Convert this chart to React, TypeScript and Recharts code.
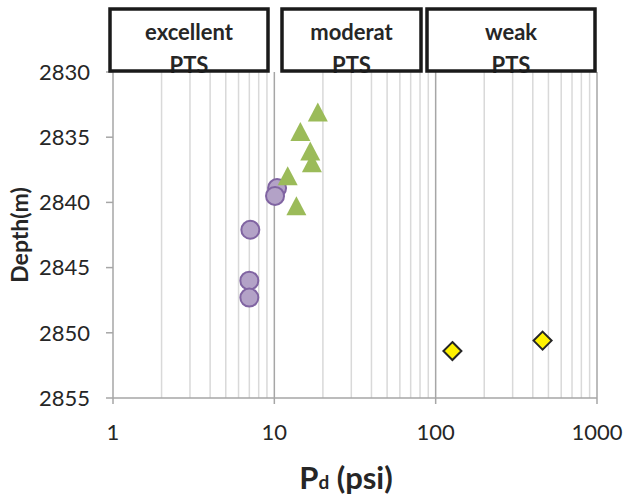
import React from 'react';
import { ScatterChart, Scatter, XAxis, YAxis, ReferenceLine, Label } from 'recharts';

const excellentX = [10.4, 10.1, 7.1, 7.0, 7.0];
const excellentY = [2838.9, 2839.5, 2842.1, 2846.0, 2847.3];
const moderateX = [18.6, 14.5, 16.7, 17.1, 12.1, 13.7];
const moderateY = [2833.1, 2834.6, 2836.1, 2837.0, 2838.0, 2840.3];
const weakX = [127, 460];
const weakY = [2851.4, 2850.6];

const xTicks = [1, 10, 100, 1000];
const yTicks = [2830, 2835, 2840, 2845, 2850, 2855];
const minorGrid = [2, 3, 4, 5, 6, 7, 8, 9, 20, 30, 40, 50, 60, 70, 80, 90, 200, 300, 400, 500, 600, 700, 800, 900];
const majorGrid = [10, 100, 1000];
const classLabels = ['excellent', 'moderat', 'weak'];

const toPts = (xs: number[], ys: number[]) => xs.map((x, i) => ({ x, y: ys[i] }));
const excellent = toPts(excellentX, excellentY);
const moderate = toPts(moderateX, moderateY);
const weak = toPts(weakX, weakY);

const FONT = 'Lato, "Open Sans", sans-serif';

const Circle = (p: any) => (
  <circle cx={p.cx} cy={p.cy} r={9} fill="#B3A2C7" stroke="#8064A2" strokeWidth={2} />
);
const Tri = (p: any) => (
  <polygon
    points={`${p.cx},${p.cy - 10} ${p.cx + 10},${p.cy + 9} ${p.cx - 10},${p.cy + 9}`}
    fill="#9BBB59"
  />
);
const Diamond = (p: any) => (
  <polygon
    points={`${p.cx},${p.cy - 9} ${p.cx + 9},${p.cy} ${p.cx},${p.cy + 9} ${p.cx - 9},${p.cy}`}
    fill="#FFF200"
    stroke="#262626"
    strokeWidth={2}
  />
);

const boxes = [
  { x: 110, w: 158 },
  { x: 282, w: 139 },
  { x: 427, w: 168 },
];

export default function App() {
  return (
    <div style={{ position: 'absolute', left: 0, top: 0, width: 623, height: 504, background: '#fff' }}>
      <ScatterChart width={623} height={504} margin={{ top: 72, right: 26, bottom: 0, left: 0 }}>
        {minorGrid.map((v) => (
          <ReferenceLine key={'m' + v} x={v} stroke="#D9D9D9" strokeWidth={1.5} />
        ))}
        {majorGrid.map((v) => (
          <ReferenceLine key={'M' + v} x={v} stroke="#A6A6A6" strokeWidth={1.5} />
        ))}
        <XAxis
          type="number"
          dataKey="x"
          scale="log"
          domain={[1, 1000]}
          ticks={xTicks}
          allowDataOverflow
          height={106}
          tickSize={6}
          tickMargin={20}
          stroke="#A6A6A6"
          strokeWidth={1.5}
          tick={{ fill: '#262626', fontSize: 22, fontFamily: FONT }}
          interval={0}
        >
          <Label
            content={(props: any) => {
              const vb = props.viewBox;
              const cx = vb.x + vb.width / 2 - 9;
              return (
                <text x={cx} y={vb.y + 91} textAnchor="middle" fontFamily={FONT} fontWeight="bold" fill="#262626">
                  <tspan fontSize={31}>P</tspan>
                  <tspan fontSize={19}>d</tspan>
                  <tspan fontSize={31}> (psi)</tspan>
                </text>
              );
            }}
          />
        </XAxis>
        <YAxis
          type="number"
          dataKey="y"
          reversed
          domain={[2830, 2855]}
          ticks={yTicks}
          width={113}
          tickSize={7}
          tickMargin={16}
          stroke="#A6A6A6"
          strokeWidth={1.5}
          tick={{ fill: '#262626', fontSize: 22, fontFamily: FONT }}
          interval={0}
        >
          <Label
            content={(props: any) => {
              const vb = props.viewBox;
              const cy = vb.y + vb.height / 2;
              return (
                <text
                  x={28}
                  y={cy}
                  transform={`rotate(-90, 28, ${cy})`}
                  textAnchor="middle"
                  fontFamily={FONT}
                  fontWeight="bold"
                  fontSize={23}
                  fill="#262626"
                >
                  Depth(m)
                </text>
              );
            }}
          />
        </YAxis>
        <Scatter data={excellent} shape={Circle} isAnimationActive={false} />
        <Scatter data={moderate} shape={Tri} isAnimationActive={false} />
        <Scatter data={weak} shape={Diamond} isAnimationActive={false} />
      </ScatterChart>
      <svg width={623} height={504} style={{ position: 'absolute', left: 0, top: 0, pointerEvents: 'none' }}>
        {boxes.map((b, i) => (
          <g key={i}>
            <rect x={b.x} y={9} width={b.w} height={62} fill="#fff" />
            <text x={b.x + b.w / 2} y={40} textAnchor="middle" fontFamily={FONT} fontWeight="bold" fontSize={22} fill="#262626">
              {classLabels[i]}
            </text>
            <text x={b.x + b.w / 2} y={73} textAnchor="middle" fontFamily={FONT} fontWeight="bold" fontSize={22} fill="#262626">
              PTS
            </text>
            <rect x={b.x} y={9} width={b.w} height={62} fill="none" stroke="#1a1a1a" strokeWidth={3.5} />
          </g>
        ))}
      </svg>
    </div>
  );
}
